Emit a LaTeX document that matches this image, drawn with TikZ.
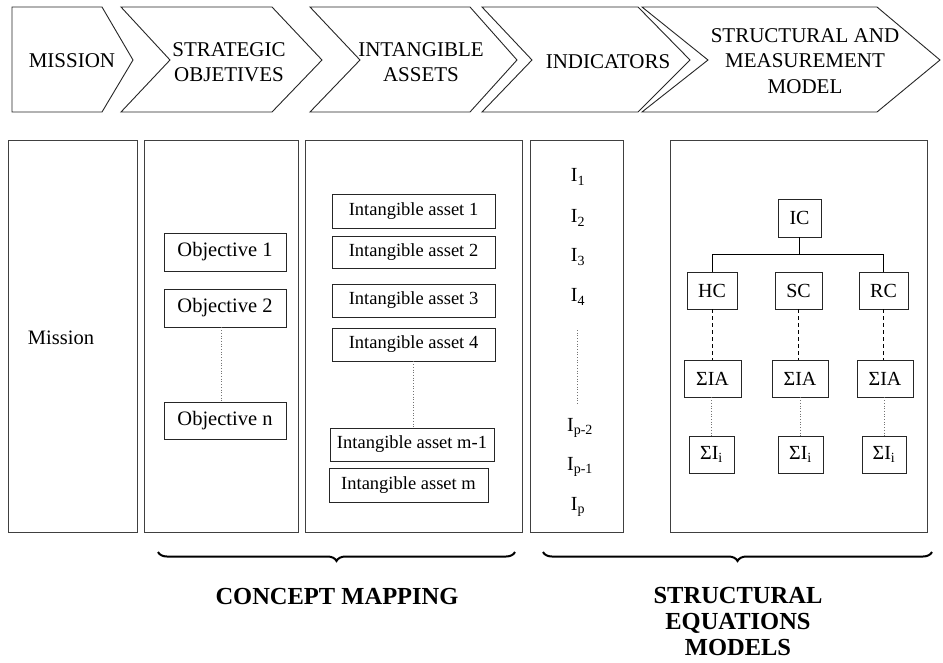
\documentclass[tikz,border=0pt]{standalone}
\usepackage{fontspec}
\setmainfont{Liberation Serif}
\usetikzlibrary{decorations.pathreplacing}
\begin{document}
\begin{tikzpicture}[x=1pt,y=-1pt,
  chev/.style={draw=black!85,line width=0.9pt,line join=miter},
  chevtxt/.style={align=center,font=\fontsize{21}{25.5}\selectfont,inner sep=0pt},
  panel/.style={draw=black!75,line width=0.9pt},
  sbox/.style={draw=black!85,line width=0.9pt,rectangle,inner sep=0pt},
  objf/.style={font=\fontsize{20.5}{24}\selectfont},
  assf/.style={font=\fontsize{18.5}{22}\selectfont},
  strf/.style={font=\fontsize{20}{24}\selectfont},
  indf/.style={font=\fontsize{20}{24}\selectfont,inner sep=0pt},
  dotl/.style={draw=black!55,line width=0.7pt,dotted},
  dashl/.style={draw=black,line width=0.9pt,dash pattern=on 4pt off 3pt},
  bigbrace/.style={decorate,decoration={brace,mirror,amplitude=9pt,aspect=0.5},line width=2pt},
  bottxt/.style={align=center,font=\fontsize{24.5}{26}\selectfont\bfseries,inner sep=0pt}
]
\useasboundingbox (0,0) rectangle (943,662);
\fill[white] (0,0) rectangle (943,662);

% chevrons
\draw[chev] (12,7) -- (102,7) -- (133,60) -- (102,112) -- (12,112) -- cycle;
\draw[chev] (121,7) -- (272,7) -- (322,60) -- (272,112) -- (121,112) -- (170,60) -- cycle;
\draw[chev] (310,7) -- (470,7) -- (517,60) -- (470,112) -- (310,112) -- (360,60) -- cycle;
\draw[chev] (482,7) -- (638,7) -- (690,60) -- (638,112) -- (482,112) -- (532,60) -- cycle;
\draw[chev] (642,7) -- (877,7) -- (940,60) -- (877,112) -- (642,112) -- (708,60) -- cycle;
\node[chevtxt] (hmission) at (72,61) {MISSION};
\node[chevtxt] (hstrat) at (229,62) {STRATEGIC\\OBJETIVES};
\node[chevtxt] (hint) at (421,62) {INTANGIBLE\\ASSETS};
\node[chevtxt] (hind) at (608,62) {INDICATORS};
\node[chevtxt] (hstruct) at (805,61) {STRUCTURAL AND\\MEASUREMENT\\MODEL};

% panels
\draw[panel] (8,140) rectangle (137,532);
\draw[panel] (144,140) rectangle (298,532);
\draw[panel] (305,140) rectangle (522,532);
\draw[panel] (530,140) rectangle (623,532);
\draw[panel] (670,140) rectangle (927,532);

% mission
\node[objf] (mission) at (61,338) {Mission};

% objectives
\node[sbox,objf,minimum width=122pt,minimum height=38pt] (o1) at (225,252) {Objective 1};
\node[sbox,objf,minimum width=122pt,minimum height=38pt] (o2) at (225,308) {Objective 2};
\node[sbox,objf,minimum width=122pt,minimum height=37pt] (on) at (225,420.5) {Objective n};
\draw[dotl] (o2.south -| 221,0) -- (on.north -| 221,0);

% intangible assets
\node[sbox,assf,minimum width=163pt,minimum height=34pt] (a1) at (413.5,211) {Intangible asset 1\hspace{10pt}};
\node[sbox,assf,minimum width=163pt,minimum height=32pt] (a2) at (413.5,252) {Intangible asset 2\hspace{10pt}};
\node[sbox,assf,minimum width=163pt,minimum height=33pt] (a3) at (413.5,300.5) {Intangible asset 3\hspace{10pt}};
\node[sbox,assf,minimum width=163pt,minimum height=33pt] (a4) at (413.5,344.5) {Intangible asset 4\hspace{10pt}};
\node[sbox,assf,minimum width=164pt,minimum height=33pt] (am1) at (412,444.5) {Intangible asset m-1};
\node[sbox,assf,minimum width=159pt,minimum height=34pt] (am) at (408.5,485) {Intangible asset m\hspace{6pt}};
\draw[dotl] (a4.south) -- (am1.north -| a4.south);

% indicators
\node[indf] (i1) at (578,177) {I\textsubscript{1}};
\node[indf] (i2) at (578,218) {I\textsubscript{2}};
\node[indf] (i3) at (578,257) {I\textsubscript{3}};
\node[indf] (i4) at (578,297) {I\textsubscript{4}};
\node[indf] (ip2) at (580,428) {I\textsubscript{p-2}};
\node[indf] (ip1) at (580,467) {I\textsubscript{p-1}};
\node[indf] (ip) at (578,507) {I\textsubscript{p}};
\coordinate (dtop) at (577,330);
\coordinate (dbot) at (577,403);
\draw[dotl] (dtop) -- (dbot);

% structural model
\node[sbox,strf,minimum width=43pt,minimum height=38pt] (ic) at (799.5,218) {IC};
\node[sbox,strf,minimum width=50pt,minimum height=37pt] (hc) at (712,290.5) {HC};
\node[sbox,strf,minimum width=47pt,minimum height=37pt] (sc) at (798.5,290.5) {SC};
\node[sbox,strf,minimum width=49pt,minimum height=37pt] (rc) at (883.5,290.5) {RC};
\node[sbox,strf,minimum width=57pt,minimum height=37pt] (ia1) at (712.5,378.5) {ΣIA};
\node[sbox,strf,minimum width=56pt,minimum height=37pt] (ia2) at (800,378.5) {ΣIA};
\node[sbox,strf,minimum width=56pt,minimum height=37pt] (ia3) at (885,378.5) {ΣIA};
\node[sbox,strf,minimum width=45pt,minimum height=37pt] (ii1) at (711.5,454.5) {ΣI\textsubscript{i}};
\node[sbox,strf,minimum width=45pt,minimum height=37pt] (ii2) at (800.5,454.5) {ΣI\textsubscript{i}};
\node[sbox,strf,minimum width=44pt,minimum height=37pt] (ii3) at (884,454.5) {ΣI\textsubscript{i}};
\coordinate (bar) at (799.5,254);
\draw[black,line width=0.9pt] (ic.south) -- (bar);
\draw[black,line width=0.9pt] (hc.north) -- (hc.north |- bar) -- (rc.north |- bar) -- (rc.north);
\draw[black,line width=0.9pt] (bar) -- (bar -| sc.north);
\draw[dashl] (hc.south) -- (hc.south |- ia1.north);
\draw[dashl] (sc.south) -- (sc.south |- ia2.north);
\draw[dashl] (rc.south) -- (rc.south |- ia3.north);
\draw[dotl] (ia1.south -| ii1.north) -- (ii1.north);
\draw[dotl] (ia2.south -| ii2.north) -- (ii2.north);
\draw[dotl] (ia3.south -| ii3.north) -- (ii3.north);

% braces
\coordinate (b1l) at (158,552);
\coordinate (b1r) at (515,552);
\coordinate (b2l) at (543,552);
\coordinate (b2r) at (932,552);
\draw[bigbrace] (b1l) -- (b1r);
\draw[bigbrace] (b2l) -- (b2r);
\node[bottxt,anchor=base] (cm) at (337,604) {CONCEPT MAPPING};
\node[bottxt,anchor=base] (sem) at (738,655) {STRUCTURAL\\EQUATIONS\\MODELS};
\end{tikzpicture}
\end{document}
